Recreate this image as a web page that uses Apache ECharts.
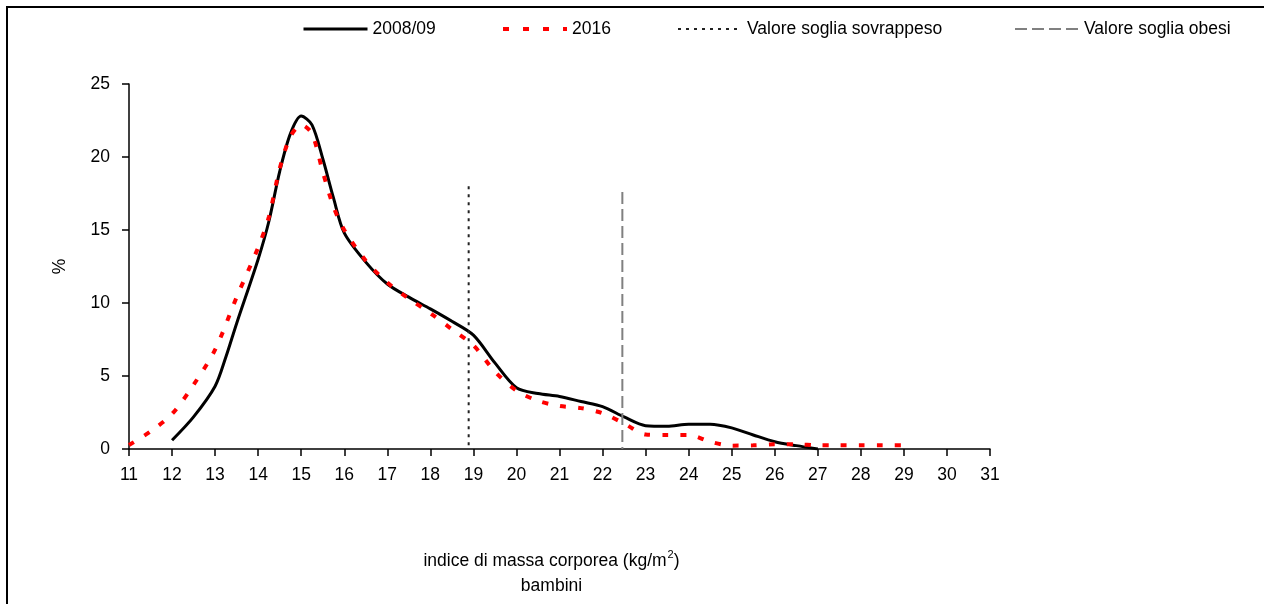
<!DOCTYPE html>
<html>
<head>
<meta charset="utf-8">
<script src="https://cdn.jsdelivr.net/npm/echarts@6/dist/echarts.min.js"></script>
<style>
  html, body { margin: 0; padding: 0; background: #fff; }
  #chart { width: 1266px; height: 604px; }
</style>
</head>
<body>
<div id="chart"></div>
<script>
// BMI distribution, children
const seriesNames = ['2008/09', '2016', 'Valore soglia sovrappeso', 'Valore soglia obesi']

const bmi0809 = [12, 12.5, 13, 13.25, 13.5, 14, 14.25, 14.5, 14.75, 15, 15.25, 15.5, 15.75, 16, 16.5, 17, 17.5, 18, 18.5, 19, 19.5, 20, 20.5, 21, 21.5, 22, 22.5, 23, 23.5, 24, 24.5, 25, 25.5, 26, 26.5, 27]
const pct0809 = [0.6, 2.2, 4.3, 6.3, 8.6, 13.0, 15.6, 19.0, 21.6, 22.8, 22.2, 19.9, 17.2, 14.8, 12.8, 11.3, 10.4, 9.6, 8.75, 7.8, 5.9, 4.2, 3.8, 3.6, 3.25, 2.9, 2.2, 1.6, 1.55, 1.7, 1.7, 1.45, 0.96, 0.5, 0.23, 0.0]

const bmi2016 = [11, 11.5, 12, 12.5, 13, 13.5, 14, 14.25, 14.5, 14.75, 15, 15.25, 15.5, 15.75, 16, 16.5, 17, 17.5, 18, 18.5, 19, 19.5, 20, 20.5, 21, 21.5, 22, 22.5, 23, 23.5, 24, 24.5, 25, 25.5, 26, 26.5, 27, 27.5, 28, 28.5, 29]
const pct2016 = [0.27, 1.2, 2.4, 4.4, 6.8, 10.4, 13.8, 15.9, 19.2, 21.4, 22.2, 21.6, 19.0, 16.6, 15.0, 12.9, 11.4, 10.3, 9.3, 8.2, 7.1, 5.3, 4.0, 3.3, 2.95, 2.8, 2.45, 1.75, 1.0, 0.96, 0.96, 0.5, 0.23, 0.25, 0.32, 0.32, 0.25, 0.25, 0.25, 0.25, 0.25]

// threshold lines: x position, top value
const sovrappesoX = [18.89, 18.89]
const sovrappesoY = [18.0, 0]
const obesiX = [22.46, 22.46]
const obesiY = [17.6, 0]

const xTicks = { min: 11, max: 31, interval: 1 }
const yTicks = { min: 0, max: 25, interval: 5 }

function pairs(xs, ys) {
    return xs.map((x, i) => [x, ys[i]])
}

const font = 'Liberation Sans, Arial, sans-serif'
const chart = echarts.init(document.getElementById('chart'))

const styles = [
    { color: '#000', width: 3, type: 'solid' },
    { color: '#ff0000', width: 4, type: [6, 12], cap: 'butt' },
    { color: '#222', width: 2, type: [3, 5] },
    { color: '#808080', width: 2, type: [12, 5] }
]

function legendAt(i, left) {
    return {
        data: [seriesNames[i]],
        left: left,
        top: 15,
        itemWidth: 64,
        itemHeight: 12,
        itemGap: 5,
        itemStyle: { opacity: 0 },
        lineStyle: Object.assign({}, styles[i], i === 1 ? { type: [6, 14] } : {}),
        textStyle: { fontFamily: font, fontSize: 17.5, color: '#000' }
    }
}

let option = {
    animation: false,
    backgroundColor: '#fff',
    textStyle: { fontFamily: font },
    legend: [
        legendAt(0, 297),
        legendAt(1, 496),
        legendAt(2, 672),
        legendAt(3, 1009)
    ],
    grid: { left: 129, right: 276, top: 84, bottom: 155 },
    xAxis: {
        type: 'value',
        min: xTicks.min,
        max: xTicks.max,
        interval: xTicks.interval,
        splitLine: { show: false },
        axisLine: { lineStyle: { color: '#000', width: 1.5 } },
        axisTick: { length: 7, lineStyle: { color: '#000', width: 1.5 } },
        axisLabel: { color: '#000', fontSize: 17.5, margin: 17, fontFamily: font },
        name: '{t|indice di massa corporea (kg/m}{sup|2}{t|)}\n{t|bambini}',
        nameLocation: 'middle',
        nameGap: 100,
        nameTextStyle: {
            fontFamily: font,
            padding: [0, 16, 0, 0],
            rich: {
                t: { fontSize: 17.5, color: '#000', lineHeight: 25, fontFamily: font },
                sup: { fontSize: 11, color: '#000', verticalAlign: 'top', lineHeight: 25, padding: [0, 0, 8, 1], fontFamily: font }
            }
        }
    },
    yAxis: {
        type: 'value',
        min: yTicks.min,
        max: yTicks.max,
        interval: yTicks.interval,
        splitLine: { show: false },
        axisLine: { show: true, lineStyle: { color: '#000', width: 1.5 } },
        axisTick: { show: true, length: 7, lineStyle: { color: '#000', width: 1.5 } },
        axisLabel: { color: '#000', fontSize: 17.5, margin: 19, fontFamily: font },
        name: '%',
        nameLocation: 'middle',
        nameGap: 60,
        nameRotate: 90,
        nameTextStyle: { fontSize: 17.5, color: '#000', fontFamily: font }
    },
    graphic: [{
        type: 'polyline',
        shape: { points: [[7, 604], [7, 7], [1264, 7]] },
        style: { stroke: '#000', lineWidth: 2, fill: null },
        silent: true
    }],
    series: [
        {
            name: seriesNames[0],
            type: 'line',
            smooth: 0.3,
            symbol: 'none',
            data: pairs(bmi0809, pct0809),
            lineStyle: styles[0],
            itemStyle: { color: styles[0].color },
            z: 3
        },
        {
            name: seriesNames[1],
            type: 'line',
            smooth: 0.3,
            symbol: 'none',
            data: pairs(bmi2016, pct2016),
            lineStyle: styles[1],
            itemStyle: { color: styles[1].color },
            z: 4
        },
        {
            name: seriesNames[2],
            type: 'line',
            symbol: 'none',
            data: pairs(sovrappesoX, sovrappesoY),
            lineStyle: styles[2],
            itemStyle: { color: styles[2].color }
        },
        {
            name: seriesNames[3],
            type: 'line',
            symbol: 'none',
            data: pairs(obesiX, obesiY),
            lineStyle: styles[3],
            itemStyle: { color: styles[3].color }
        }
    ]
}

chart.setOption(option)
</script>
</body>
</html>
